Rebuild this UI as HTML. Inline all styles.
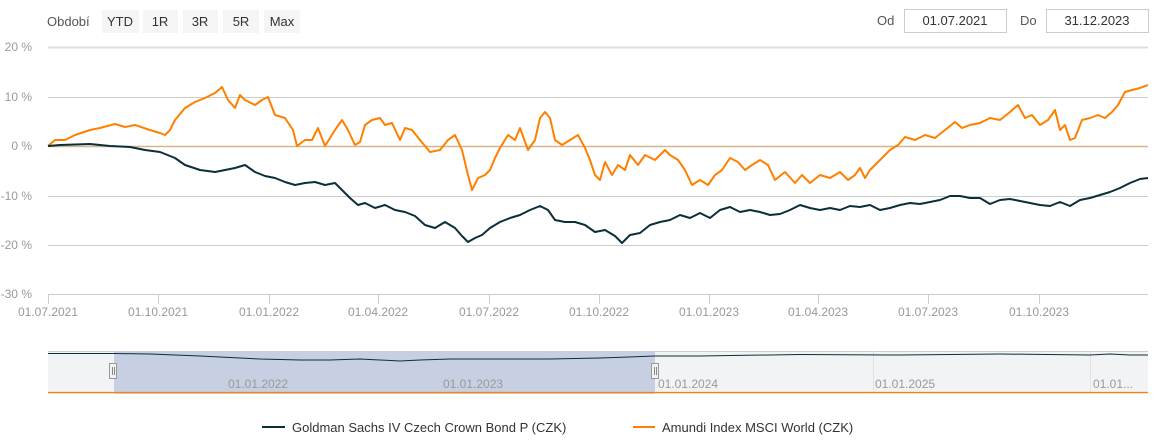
<!DOCTYPE html>
<html><head><meta charset="utf-8"><style>
body{margin:0;background:#fff;width:1157px;height:441px;overflow:hidden;font-family:"Liberation Sans","DejaVu Sans",sans-serif;}
</style></head><body>
<svg width="1157" height="441" xmlns="http://www.w3.org/2000/svg" font-family="Liberation Sans, DejaVu Sans, sans-serif">
<rect width="1157" height="441" fill="#fff"/>
<text x="47" y="26" font-size="13" fill="#555">Období</text>
<g font-size="13" fill="#333" text-anchor="middle">
<rect x="102" y="10" width="37" height="23" fill="#f5f5f5"/><text x="120" y="26">YTD</text>
<rect x="143" y="10" width="35" height="23" fill="#f5f5f5"/><text x="160" y="26">1R</text>
<rect x="183" y="10" width="35" height="23" fill="#f5f5f5"/><text x="200" y="26">3R</text>
<rect x="223" y="10" width="36" height="23" fill="#f5f5f5"/><text x="241" y="26">5R</text>
<rect x="264" y="10" width="36" height="23" fill="#f5f5f5"/><text x="282" y="26">Max</text>
</g>
<text x="877" y="25" font-size="13" fill="#555">Od</text>
<rect x="904.5" y="9.5" width="102" height="23" fill="#fff" stroke="#ccc"/>
<text x="955" y="25" font-size="13" fill="#333" text-anchor="middle">01.07.2021</text>
<text x="1020" y="25" font-size="13" fill="#555">Do</text>
<rect x="1046.5" y="9.5" width="102" height="23" fill="#fff" stroke="#ccc"/>
<text x="1097" y="25" font-size="13" fill="#333" text-anchor="middle">31.12.2023</text>
<g stroke="#ccc" stroke-width="1">
<line x1="48" y1="47.5" x2="1148" y2="47.5" stroke-width="2" stroke="#ddd"/>
<line x1="48" y1="97.5" x2="1148" y2="97.5"/>
<line x1="48" y1="196.5" x2="1148" y2="196.5"/>
<line x1="48" y1="245.5" x2="1148" y2="245.5"/>
<line x1="48" y1="294.5" x2="1148" y2="294.5"/>
</g>
<line x1="48" y1="146.5" x2="1148" y2="146.5" stroke="#d8b48c" stroke-width="1.5"/>
<g stroke="#ccc"><line x1="48.5" y1="294" x2="48.5" y2="304"/><line x1="158.5" y1="294" x2="158.5" y2="304"/><line x1="269.5" y1="294" x2="269.5" y2="304"/><line x1="378.5" y1="294" x2="378.5" y2="304"/><line x1="489.5" y1="294" x2="489.5" y2="304"/><line x1="599.5" y1="294" x2="599.5" y2="304"/><line x1="709.5" y1="294" x2="709.5" y2="304"/><line x1="818.5" y1="294" x2="818.5" y2="304"/><line x1="928.5" y1="294" x2="928.5" y2="304"/><line x1="1039.5" y1="294" x2="1039.5" y2="304"/></g>
<g font-size="12" fill="#999" text-anchor="end">
<text x="32" y="51">20 %</text><text x="32" y="101">10 %</text><text x="32" y="150">0 %</text><text x="32" y="200">-10 %</text><text x="32" y="249">-20 %</text><text x="32" y="298">-30 %</text>
</g>
<g font-size="12" fill="#999" text-anchor="middle">
<text x="48" y="316">01.07.2021</text><text x="158" y="316">01.10.2021</text><text x="269" y="316">01.01.2022</text><text x="378" y="316">01.04.2022</text><text x="489" y="316">01.07.2022</text><text x="599" y="316">01.10.2022</text><text x="709" y="316">01.01.2023</text><text x="818" y="316">01.04.2023</text><text x="928" y="316">01.07.2023</text><text x="1039" y="316">01.10.2023</text>
</g>
<polyline fill="none" stroke="#ff8000" stroke-width="2" stroke-linejoin="round" points="48,146 55,140 65,140 75,135 90,130 100,128 115,124 125,127 135,125 150,130 160,133 165,135 170,130 175,120 185,108 195,102 205,98 215,93 222,87 228,100 235,108 240,95 245,100 255,105 262,100 268,97 275,115 285,118 293,130 297,146 305,140 312,140 318,128 325,146 335,130 342,120 348,130 355,145 360,142 365,125 372,120 380,118 385,125 392,123 400,140 405,128 412,130 420,140 430,152 440,150 448,140 455,135 462,150 468,175 472,190 478,178 485,175 490,170 495,158 500,148 508,135 515,140 520,128 528,150 535,140 540,118 545,112 550,118 555,140 562,145 570,140 578,135 585,148 590,160 595,175 600,180 605,162 612,175 618,165 625,170 630,155 638,165 645,155 655,160 665,150 670,155 678,160 685,170 692,185 700,180 708,185 715,175 722,170 730,158 738,162 745,170 752,165 760,160 768,165 775,180 785,172 795,183 802,175 810,183 820,175 830,178 840,172 848,180 855,175 860,168 865,178 870,170 875,165 882,158 890,150 898,145 905,137 915,140 925,135 935,138 945,130 955,122 962,128 970,125 980,123 990,118 1000,120 1010,112 1018,105 1025,118 1032,115 1040,125 1048,120 1055,110 1060,130 1065,125 1070,140 1075,138 1082,120 1090,118 1098,115 1105,118 1112,112 1118,105 1125,92 1132,90 1140,88 1148,85"/>
<polyline fill="none" stroke="#0b2f3a" stroke-width="2" stroke-linejoin="round" points="48,146 60,145 90,144 110,146 130,147 145,150 160,152 175,158 185,165 200,170 215,172 225,170 235,168 245,165 255,172 265,176 275,178 285,182 295,185 305,183 315,182 325,185 335,183 342,190 350,198 358,205 365,203 375,208 385,205 395,210 405,212 415,216 425,225 435,228 445,222 455,228 462,236 468,242 475,238 482,235 490,228 500,222 510,218 520,215 530,210 540,206 548,210 555,220 565,222 575,222 585,225 595,232 605,230 615,236 622,243 630,235 640,233 650,225 660,222 670,220 680,215 690,218 700,213 710,218 720,210 730,207 740,212 750,210 760,212 770,215 780,214 790,210 800,205 810,208 820,210 830,208 840,210 850,206 860,207 870,205 880,210 890,208 900,205 910,203 920,204 930,202 940,200 950,196 960,196 970,198 980,198 990,204 1000,200 1010,199 1020,201 1030,203 1040,205 1050,206 1060,202 1070,206 1080,200 1090,198 1100,195 1110,192 1120,188 1130,183 1140,179 1148,178"/>
<rect x="48" y="351" width="1100" height="43" fill="#f2f3f4"/>
<line x1="48" y1="351.5" x2="1148" y2="351.5" stroke="#ccc"/>
<g stroke="#e2e2e2"><line x1="220.5" y1="351" x2="220.5" y2="394"/><line x1="438.5" y1="351" x2="438.5" y2="394"/><line x1="873.5" y1="351" x2="873.5" y2="394"/><line x1="1090.5" y1="351" x2="1090.5" y2="394"/></g>
<rect x="114" y="351" width="541" height="43" fill="#c6d0e2"/>
<polyline fill="none" stroke="#0b2f3a" stroke-width="1" points="48,353.5 114,353.5 150,354 200,356 260,359 300,360 330,360 360,359 400,361 420,360 450,359 500,359 550,359 600,358 655,356 700,356 800,354.5 900,355 1000,354 1090,355 1110,354 1130,355 1148,355"/>
<line x1="48" y1="392.5" x2="1148" y2="392.5" stroke="#ff8000" stroke-width="1.2"/>
<g font-size="12" fill="#999"><text x="228" y="388">01.01.2022</text><text x="443" y="388">01.01.2023</text><text x="658" y="388">01.01.2024</text><text x="875" y="388">01.01.2025</text><text x="1093" y="388">01.01...</text></g>
<g fill="#f2f2f2" stroke="#999"><rect x="109.5" y="363.5" width="7" height="15"/><rect x="651.5" y="363.5" width="7" height="15"/></g>
<g stroke="#888"><line x1="112.5" y1="367" x2="112.5" y2="375"/><line x1="114.5" y1="367" x2="114.5" y2="375"/><line x1="654.5" y1="367" x2="654.5" y2="375"/><line x1="656.5" y1="367" x2="656.5" y2="375"/></g>
<line x1="262" y1="427" x2="285" y2="427" stroke="#0b2f3a" stroke-width="2"/>
<text x="292" y="432" font-size="13" fill="#333">Goldman Sachs IV Czech Crown Bond P (CZK)</text>
<line x1="633" y1="427" x2="655" y2="427" stroke="#ff8000" stroke-width="2"/>
<text x="662" y="432" font-size="13" fill="#333">Amundi Index MSCI World (CZK)</text>
</svg>
</body></html>
